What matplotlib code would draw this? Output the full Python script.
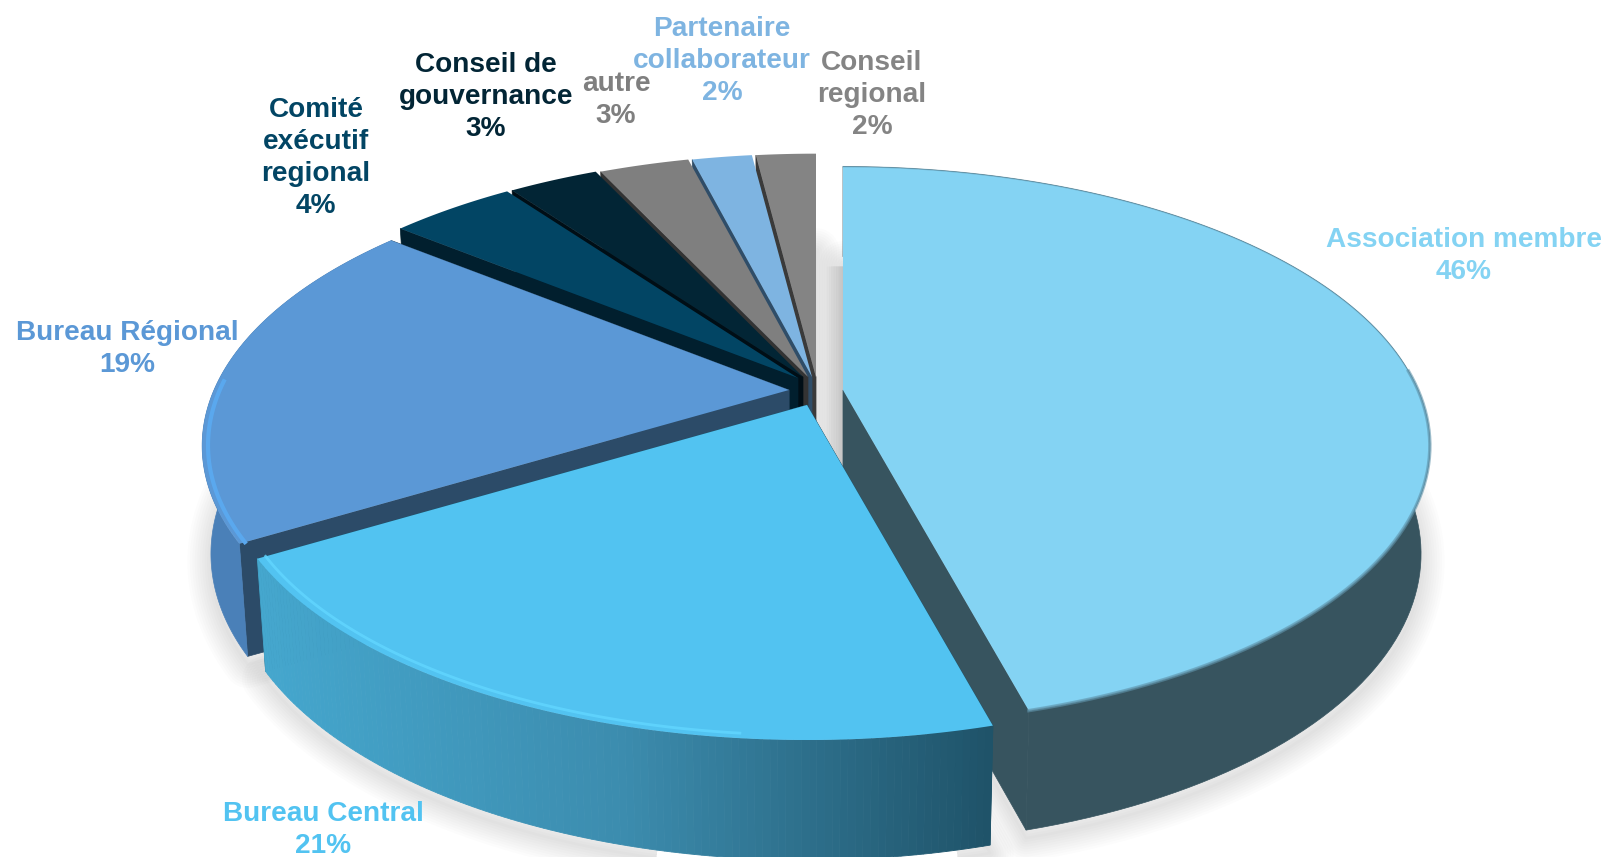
import numpy as np
import matplotlib
matplotlib.use("Agg")
import matplotlib.pyplot as plt
from matplotlib.colors import to_rgb

# Donnees
categories = ["Association membre", "Bureau Central", "Bureau Régional", "Comité\nexécutif\nregional",
              "Conseil de\ngouvernance", "autre", "Partenaire\ncollaborateur", "Conseil\nregional"]
valeurs = [45.8, 20.6, 19.4, 4.2, 3.0, 3.0, 2.0, 2.0]  # estimees, les etiquettes sont arrondies

# Style des parts
couleurs = ["#84d3f3", "#52c3f1", "#5b98d6", "#024564", "#022535", "#7f7f7f", "#7eb4e1", "#848484"]
couleurs_flanc = ["#37545f", "#3f94b8", "#4a80b8", "#012a3d", "#011722", "#4d4d4d", "#4c6d88", "#505050"]
couleurs_coupe = ["#37545f", "#1f5369", "#2c4b68", "#011f2e", "#000e16", "#333333", "#2f4d68", "#3a3a3a"]

# Position du centre de chaque part, et de son etiquette (pixels de l'image)
centres = [(843, 390), (807, 405), (789, 390), (798, 378), (803, 377), (808, 377), (812, 377), (816, 377)]
pos_etiquettes = [(1464, 256), (323, 830), (127, 349), (316, 158), (486, 97), (616, 100), (722, 61), (872, 95)]

# Perspective
RX = 575
RY = 268
K = 0.20
ECHELLE_BAS = 0.985

# Ordre de dessin : du fond vers l'avant
ordre = [7, 6, 5, 4, 3, 2, 0, 1]


def haut(theta, centre):
    u, v = np.sin(theta), np.cos(theta)
    d = 1 + K * v
    return centre[0] + RX * u / d, centre[1] - RY * v / d


def bas(theta, centre):
    x, y = haut(theta, centre)
    hauteur = 105 - 15 * np.cos(theta)
    return centre[0] + ECHELLE_BAS * (x - centre[0]), y + hauteur


def centre_bas(centre):
    return centre[0], centre[1] + 118


fig = plt.figure(figsize=(16.06, 8.57), dpi=100)
ax = fig.add_axes([0, 0, 1, 1])
ax.set_xlim(0, 1606)
ax.set_ylim(857, 0)
ax.axis("off")

# Angles calcules depuis les valeurs
bornes = np.cumsum([0] + valeurs) / sum(valeurs) * 2 * np.pi

# Ombre portee sous le camembert
for i in range(len(valeurs)):
    t = np.linspace(bornes[i], bornes[i + 1], 80)
    xb, yb = bas(t, centres[i])
    xs = np.r_[centres[i][0], xb]
    ys = np.r_[centre_bas(centres[i])[1], yb] + 8
    for w in np.linspace(2, 34, 10):
        ax.fill(xs, ys, facecolor="none", edgecolor="k", alpha=0.011, lw=w, joinstyle="round", zorder=1)

# Ombre dans l'espace laisse par la part detachee
for w in np.linspace(1, 24, 8):
    ax.plot([843, 843], [266, 500], color="k", alpha=0.016, lw=w, solid_capstyle="butt", zorder=1)

z = 2
for i in ordre:
    t = np.linspace(bornes[i], bornes[i + 1], 120)
    c = centres[i]
    cb = centre_bas(c)
    xh, yh = haut(t, c)
    xb, yb = bas(t, c)
    au_fond = i >= 3  # petites parts du fond : on ne voit que la coupe de depart

    # Coupes
    for k in ((0,) if au_fond else (0, -1)):
        ax.fill([c[0], xh[k], xb[k], cb[0]], [c[1], yh[k], yb[k], cb[1]],
                color=couleurs_coupe[i], lw=0.5, zorder=z)
    z += 1

    # Flanc exterieur
    if categories[i] == "Bureau Central":
        # degrade horizontal
        g1, g2, g3 = (np.array(to_rgb(n)) for n in ("#45a7ce", "#3c8cae", "#1f5369"))
        for j in range(len(t) - 1):
            f = (xh[j] - xh[-1]) / (xh[0] - xh[-1])
            col = g1 + (g2 - g1) * f / 0.5 if f < 0.5 else g2 + (g3 - g2) * (f - 0.5) / 0.5
            ax.fill([xh[j], xh[j + 1], xb[j + 1], xb[j]], [yh[j], yh[j + 1], yb[j + 1], yb[j]],
                    color=col, lw=0.6, zorder=z)
    elif not au_fond:
        ax.fill(np.r_[xh, xb[::-1]], np.r_[yh, yb[::-1]], color=couleurs_flanc[i], lw=0.5, zorder=z)
    z += 1

    # Dessus
    ax.fill(np.r_[c[0], xh], np.r_[c[1], yh], color=couleurs[i], lw=0, zorder=z)
    z += 1

    # Bord du dessus, un peu fondu
    if i == 0:
        ax.plot(xh, yh, color="#5f93aa", lw=1.0, alpha=0.5, zorder=z)
        keep = t > np.radians(85)
        ax.plot(xh[keep], yh[keep], color="#5f93aa", lw=2.5, alpha=0.6, zorder=z)
    elif i == 1:
        xr, yr = c[0] + 0.985 * (xh - c[0]), c[1] + 0.985 * (yh - c[1])
        keep = t > np.radians(185)
        ax.plot(xr[keep], yr[keep], color="#62d6ff", lw=2.0, alpha=0.8, zorder=z)
    elif i == 2:
        xr, yr = c[0] + 0.99 * (xh - c[0]), c[1] + 0.99 * (yh - c[1])
        keep = t < np.radians(272)
        ax.plot(xr[keep], yr[keep], color="#5aa8ee", lw=3, zorder=z)
    z += 1

# Etiquettes
for i, nom in enumerate(categories):
    ax.text(pos_etiquettes[i][0], pos_etiquettes[i][1], f"{nom}\n{valeurs[i]:.0f}%", color=couleurs[i],
            family="Liberation Sans", fontweight="bold", fontsize=20.2, ha="center", va="center",
            linespacing=1.29, zorder=z)

fig.savefig("out.png", dpi=100, facecolor="white")
